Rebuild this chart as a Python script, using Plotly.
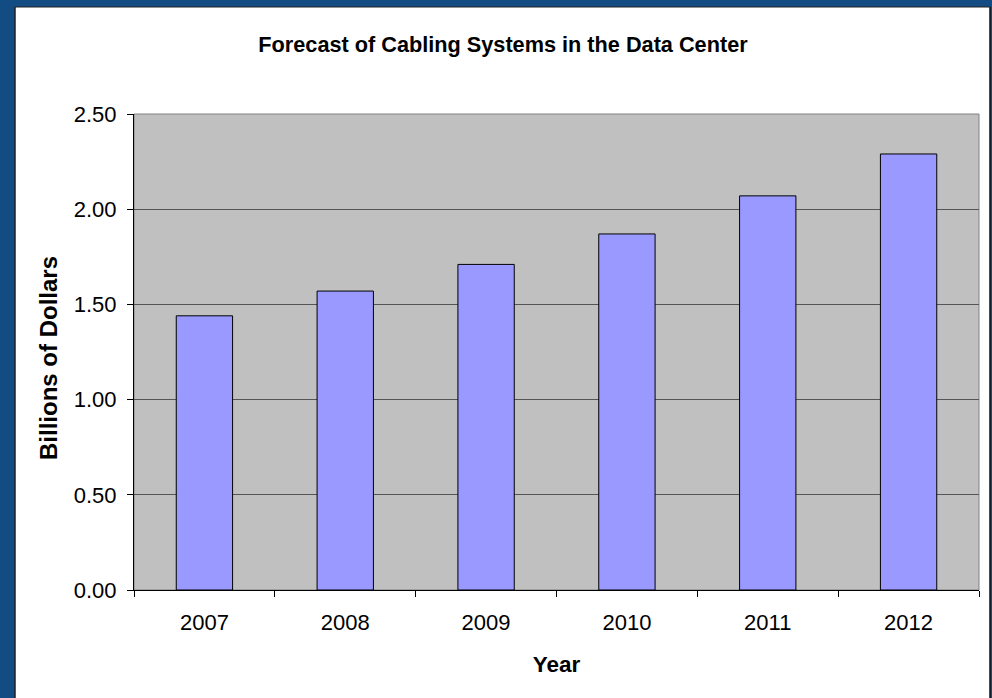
import plotly.graph_objects as go

years = ["2007", "2008", "2009", "2010", "2011", "2012"]
values = [1.44, 1.57, 1.71, 1.87, 2.07, 2.29]
y_ticks = [0, 0.5, 1.0, 1.5, 2.0, 2.5]
y_tick_text = ["0.00", "0.50", "1.00", "1.50", "2.00", "2.50"]

W, H = 992, 698
L, R, T, B = 134, 979, 114, 590
pw, ph = R - L, B - T

def px(x):
    return (x - L) / pw

def py(y):
    return (B - y) / ph

BLUE = "#124C82"
FONT = "Liberation Sans, Arial, sans-serif"

fig = go.Figure()
fig.add_trace(go.Bar(
    x=years, y=values,
    marker=dict(color="#9999FF", line=dict(color="black", width=1)),
    width=0.4,
))

shapes = [
    # blue frame
    dict(type="rect", xref="paper", yref="paper", x0=px(-10), x1=px(15), y0=py(710), y1=py(-10),
         fillcolor=BLUE, line=dict(width=0), layer="below"),
    dict(type="rect", xref="paper", yref="paper", x0=px(-10), x1=px(1000), y0=py(7), y1=py(-10),
         fillcolor=BLUE, line=dict(width=0), layer="below"),
    dict(type="rect", xref="paper", yref="paper", x0=px(990), x1=px(1005), y0=py(710), y1=py(-10),
         fillcolor=BLUE, line=dict(width=0), layer="below"),
    # dark edges of white panel
    dict(type="line", xref="paper", yref="paper", x0=px(15), x1=px(15), y0=py(710), y1=py(7),
         line=dict(color="#222222", width=1.5)),
    dict(type="line", xref="paper", yref="paper", x0=px(990), x1=px(990), y0=py(710), y1=py(7),
         line=dict(color="#111111", width=1.5)),
    dict(type="line", xref="paper", yref="paper", x0=px(15), x1=px(990), y0=py(7), y1=py(7),
         line=dict(color="#222222", width=1)),
    # plot-area border (gray top / right)
    dict(type="rect", xref="paper", yref="paper", x0=0, x1=1, y0=0, y1=1,
         line=dict(color="#808080", width=1), layer="below"),
]

fig.update_layout(
    width=W, height=H,
    margin=dict(l=L, r=W - R, t=T, b=H - B, pad=0),
    paper_bgcolor="white",
    plot_bgcolor="#C0C0C0",
    showlegend=False,
    shapes=shapes,
    font=dict(family=FONT, color="black", size=22),
    title=dict(
        text="<b>Forecast of Cabling Systems in the Data Center</b>",
        x=px(503), xref="paper", xanchor="center",
        y=1 - 44 / H, yref="container", yanchor="middle",
        font=dict(family=FONT, size=21.7, color="black"),
    ),
    annotations=[dict(
        text="<b>Billions of Dollars</b>",
        xref="paper", yref="paper", x=px(48), y=py(358),
        xanchor="center", yanchor="middle", textangle=-90,
        showarrow=False, font=dict(family=FONT, size=24, color="black"),
    )],
    xaxis=dict(
        type="category",
        tickson="boundaries",
        ticks="outside", ticklen=6, tickcolor="black", tickwidth=1,
        showline=True, linecolor="black", linewidth=1,
        showgrid=False,
        tickfont=dict(size=22),
        ticklabelstandoff=13,
        title=dict(text="<b>Year</b>", font=dict(size=22.5), standoff=21),
    ),
    yaxis=dict(
        range=[0, 2.5],
        tickvals=y_ticks, ticktext=y_tick_text,
        ticks="outside", ticklen=6, tickcolor="black", tickwidth=1,
        showline=True, linecolor="black", linewidth=1,
        showgrid=True, gridcolor="#555555", gridwidth=1,
        zeroline=False,
        tickfont=dict(size=22),
        ticklabelstandoff=6,
    ),
)

fig.write_html("out.html")
